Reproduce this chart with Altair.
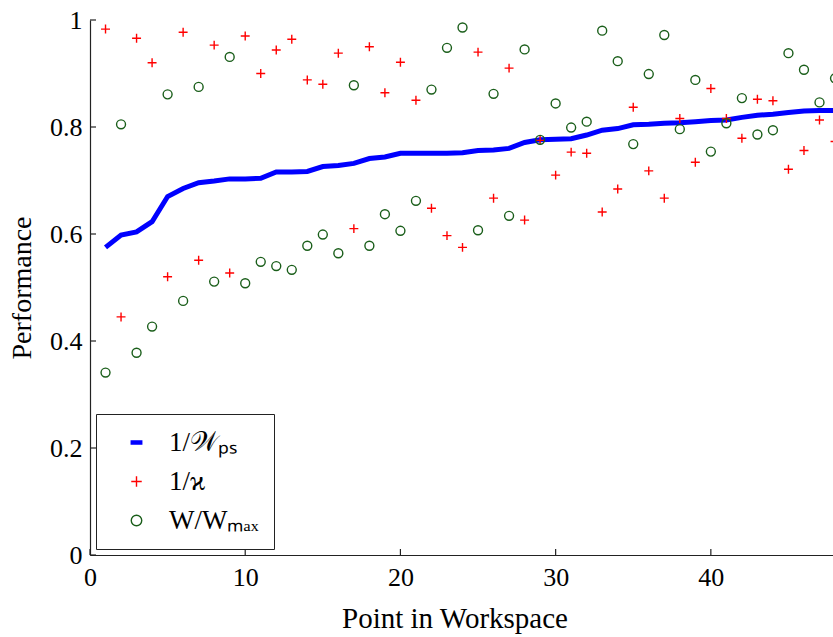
import altair as alt
import pandas as pd

points = list(range(1, 49))

inv_wps = [0.575, 0.598, 0.604, 0.623, 0.670, 0.685, 0.696, 0.699, 0.703, 0.703,
           0.704, 0.716, 0.716, 0.717, 0.726, 0.728, 0.732, 0.741, 0.744, 0.751,
           0.751, 0.751, 0.751, 0.752, 0.756, 0.757, 0.760, 0.771, 0.776, 0.777,
           0.778, 0.785, 0.794, 0.797, 0.804, 0.805, 0.807, 0.808, 0.810, 0.812,
           0.813, 0.818, 0.822, 0.824, 0.827, 0.830, 0.831, 0.831]

inv_kappa = [0.983, 0.445, 0.966, 0.920, 0.520, 0.977, 0.551, 0.953, 0.527, 0.970,
             0.900, 0.944, 0.964, 0.888, 0.880, 0.938, 0.610, 0.950, 0.864, 0.921,
             0.850, 0.648, 0.597, 0.575, 0.940, 0.667, 0.910, 0.626, 0.775, 0.710,
             0.753, 0.751, 0.641, 0.684, 0.837, 0.718, 0.667, 0.816, 0.734, 0.872,
             0.816, 0.779, 0.852, 0.849, 0.721, 0.756, 0.813, 0.773]

w_ratio = [0.341, 0.805, 0.378, 0.427, 0.861, 0.475, 0.875, 0.511, 0.931, 0.508,
           0.548, 0.540, 0.533, 0.578, 0.599, 0.564, 0.878, 0.578, 0.637, 0.606,
           0.662, 0.870, 0.948, 0.986, 0.607, 0.862, 0.634, 0.945, 0.776, 0.844,
           0.799, 0.810, 0.980, 0.923, 0.768, 0.899, 0.972, 0.796, 0.888, 0.754,
           0.807, 0.854, 0.786, 0.794, 0.938, 0.907, 0.846, 0.891]

series_names = ["1/𝒲ₚₛ", "1/ϰ", "W/Wₘₐₓ"]
y_ticks = [0, 0.2, 0.4, 0.6, 0.8, 1.0]
x_ticks = [0, 10, 20, 30, 40]

FONT = "Liberation Serif"
W, H = 743, 535

line_df = pd.DataFrame({"x": points, "y": inv_wps})
pts_df = pd.concat([
    pd.DataFrame({"x": points, "y": inv_kappa, "series": series_names[1]}),
    pd.DataFrame({"x": points, "y": w_ratio, "series": series_names[2]}),
])

xscale = alt.Scale(domain=[0, 47.87], nice=False, zero=False)
yscale = alt.Scale(domain=[0, 1], nice=False)

x_axis = alt.Axis(values=x_ticks, title="Point in Workspace", grid=False,
                  tickSize=0, labelPadding=9, titlePadding=14, titleX=W / 2 - 7,
                  labelFontSize=26, titleFontSize=29, labelFont=FONT, titleFont=FONT,
                  titleFontWeight="normal", labelColor="black", titleColor="black",
                  domainColor="#222", domainWidth=1.2, labelFlush=False)
y_axis = alt.Axis(values=y_ticks, title="Performance", grid=False, format=".1~f",
                  tickSize=0, labelPadding=8, titlePadding=13,
                  labelFontSize=26, titleFontSize=28, labelFont=FONT, titleFont=FONT,
                  titleFontWeight="normal", labelColor="black", titleColor="black",
                  domainColor="#222", domainWidth=1.2)

line = alt.Chart(line_df).mark_line(color="#0000ff", strokeWidth=5).encode(
    x=alt.X("x:Q", scale=xscale, axis=x_axis),
    y=alt.Y("y:Q", scale=yscale, axis=y_axis),
)

shape_paths = ["M-1,-0.3H1V0.3H-1Z", "M-1,0H1M0,-1V1", "circle"]
pts = alt.Chart(pts_df).mark_point(size=80, strokeWidth=1.4, opacity=1).encode(
    x=alt.X("x:Q", scale=xscale),
    y=alt.Y("y:Q", scale=yscale),
    shape=alt.Shape("series:N", scale=alt.Scale(domain=series_names, range=shape_paths),
                    legend=alt.Legend(title=None, orient="bottom-left", offset=6,
                                      labelFont=FONT, labelFontSize=27, labelColor="black",
                                      strokeColor="#222", fillColor="white",
                                      padding=15, rowPadding=11, symbolSize=110,
                                      symbolOffset=12, labelOffset=19,
                                      symbolStrokeWidth=1.4, cornerRadius=0)),
    stroke=alt.Stroke("series:N", scale=alt.Scale(domain=series_names,
                                                  range=["#0000ff", "#ff0000", "#1a5e1a"]),
                      legend=alt.Legend(title=None)),
    fill=alt.Fill("series:N", scale=alt.Scale(domain=series_names,
                                              range=["#0000ff", "transparent", "transparent"]),
                  legend=alt.Legend(title=None)),
)

ytick_df = pd.DataFrame({"v": y_ticks})
xtick_df = pd.DataFrame({"v": x_ticks})
yticks = alt.Chart(ytick_df).mark_rule(color="#222", strokeWidth=1.2).encode(
    y=alt.Y("v:Q", scale=yscale), x=alt.value(0), x2=alt.value(6))
xticks = alt.Chart(xtick_df).mark_rule(color="#222", strokeWidth=1.2).encode(
    x=alt.X("v:Q", scale=xscale), y=alt.value(H), y2=alt.value(H - 6))

chart = alt.layer(line, pts, yticks, xticks).properties(
    width=W, height=H,
    background="white",
    autosize=alt.AutoSizeParams(type="none"),
    padding={"left": 90, "top": 20, "right": 0, "bottom": 82},
).configure_view(stroke=None)

chart.save("out.html", embed_options={"renderer": "svg", "actions": False})
